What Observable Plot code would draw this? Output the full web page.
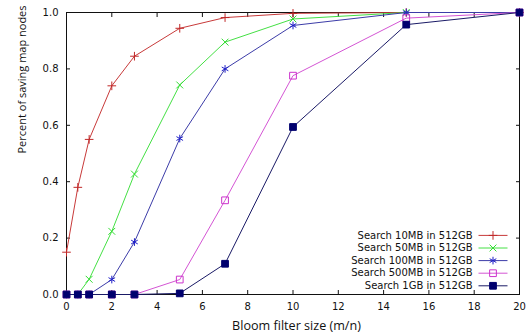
<!DOCTYPE html>
<html>
<head>
<meta charset="utf-8">
<script src="https://cdn.jsdelivr.net/npm/d3@7"></script>
<script src="https://cdn.jsdelivr.net/npm/@observablehq/plot@0.6"></script>
<style>
  html, body { margin: 0; padding: 0; background: #fff; }
  #chart svg { display: block; }
</style>
</head>
<body>
<div id="chart"></div>
<script>
// ---- data ----
const bloomSizes = [0, 0.5, 1, 2, 3, 5, 7, 10, 15, 20];
const seriesNames = [
  "Search 10MB in 512GB",
  "Search 50MB in 512GB",
  "Search 100MB in 512GB",
  "Search 500MB in 512GB",
  "Search 1GB in 512GB"
];
const search10MB  = [0.15, 0.38, 0.55, 0.74, 0.845, 0.944, 0.982, 0.997, 1, 1];
const search50MB  = [0, 0, 0.054, 0.224, 0.427, 0.743, 0.895, 0.977, 1, 1];
const search100MB = [0, 0, 0, 0.053, 0.186, 0.553, 0.80, 0.954, 1, 1];
const search500MB = [0, 0, 0, 0, 0, 0.053, 0.334, 0.776, 0.98, 1];
const search1GB   = [0, 0, 0, 0, 0, 0.004, 0.109, 0.594, 0.957, 1];
const xTicks = [0, 2, 4, 6, 8, 10, 12, 14, 16, 18, 20];
const yTicks = [0, 0.2, 0.4, 0.6, 0.8, 1];
const xTitle = "Bloom filter size (m/n)";
const yTitle = "Percent of saving map nodes";

// ---- styles ----
const allValues = [search10MB, search50MB, search100MB, search500MB, search1GB];
const lineColors = ["#c83a3a", "#44e044", "#3c3ca8", "#d455d4", "#1a1a66"];
const markColors = ["#c02828", "#33dd33", "#2020c8", "#cc33cc", "#00006e"];
const symbols = ["plus", "times", "asterisk", "square", "square"];
const symR = [2.9, 3.2, 3.6, 3.8, 3.8];
const symFill = ["none", "none", "none", "none", "fill"];

const rows = [];
allValues.forEach((vals, s) => vals.forEach((v, i) => rows.push({series: seriesNames[s], s, x: bloomSizes[i], y: v})));

const marks = [];
seriesNames.forEach((name, s) => {
  const d = rows.filter(r => r.s === s);
  marks.push(Plot.line(d, {x: "x", y: "y", stroke: lineColors[s], strokeWidth: 1}));
  marks.push(Plot.dot(d, {
    x: "x", y: "y", symbol: symbols[s], r: symR[s],
    stroke: markColors[s], strokeWidth: 1,
    fill: symFill[s] === "fill" ? markColors[s] : "none"
  }));
});

// legend inside the frame (bottom-right)
const lineSample = {draw(ctx) { ctx.moveTo(-14.5, 0); ctx.lineTo(14.5, 0); }};
seriesNames.forEach((name, s) => {
  const dy = -(8.7 + (seriesNames.length - 1 - s) * 12.6);
  marks.push(Plot.text([name], {frameAnchor: "bottom-right", text: d => d, dx: -47, dy, textAnchor: "end", lineAnchor: "middle", fontSize: 10, fill: "#111"}));
  marks.push(Plot.dot([name], {frameAnchor: "bottom-right", dx: -26.5, dy, symbol: lineSample, r: 3, stroke: lineColors[s], strokeWidth: 1, fill: "none"}));
  marks.push(Plot.dot([name], {frameAnchor: "bottom-right", dx: -26.5, dy, symbol: symbols[s], r: symR[s], stroke: markColors[s], strokeWidth: 1, fill: symFill[s] === "fill" ? markColors[s] : "none"}));
});

const chart = Plot.plot({
  width: 531,
  height: 335,
  marginLeft: 66,
  marginRight: 12,
  marginTop: 12,
  marginBottom: 41,
  style: {fontFamily: "'DejaVu Sans', sans-serif", fontSize: "10px", color: "#111", background: "#fff"},
  x: {domain: [0, 20]},
  y: {domain: [0, 1]},
  marks: [
    // tick labels
    Plot.axisX(xTicks, {anchor: "bottom", tickSize: 0, tickPadding: 8, label: null, fontSize: 10}),
    Plot.axisY(yTicks, {anchor: "left", tickSize: 0, tickPadding: 8, label: null, fontSize: 10}),
    // inward ticks on all four sides
    Plot.axisX(xTicks, {anchor: "bottom", tickSize: -4, text: null, label: null}),
    Plot.axisX(xTicks, {anchor: "top", tickSize: -4, text: null, label: null}),
    Plot.axisY(yTicks, {anchor: "left", tickSize: -4, text: null, label: null}),
    Plot.axisY(yTicks, {anchor: "right", tickSize: -4, text: null, label: null}),
    Plot.frame({stroke: "#111", strokeWidth: 1}),
    ...marks,
    // axis titles
    Plot.text([yTitle], {frameAnchor: "left", text: d => d, dx: -44.5, rotate: -90, fontSize: 11, fontFamily: "'Open Sans', sans-serif", fill: "#111"}),
    Plot.text([xTitle], {frameAnchor: "bottom", text: d => d, dx: 3.5, dy: 31, lineAnchor: "middle", fontSize: 12.6, fontFamily: "'Open Sans', sans-serif", fill: "#111"})
  ]
});
document.getElementById("chart").appendChild(chart);
</script>
</body>
</html>
